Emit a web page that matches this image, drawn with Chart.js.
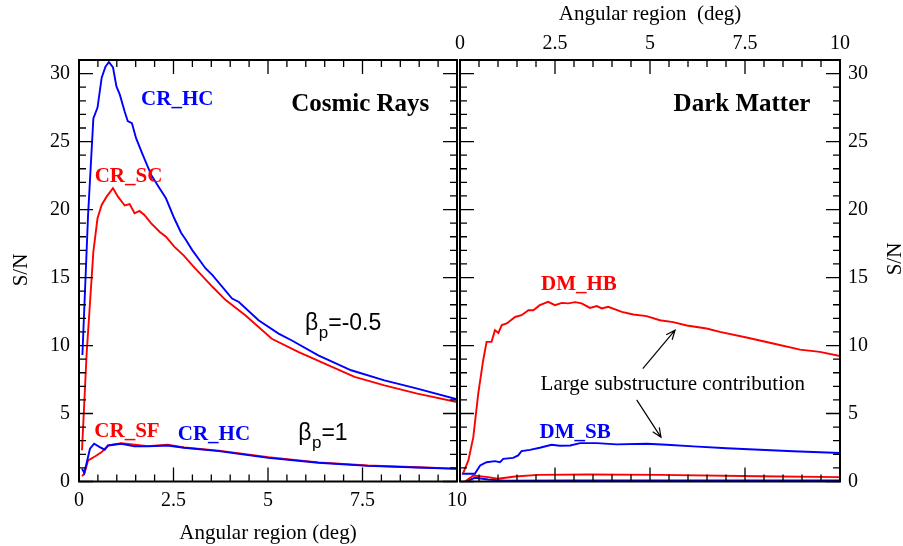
<!DOCTYPE html>
<html><head><meta charset="utf-8">
<script src="https://cdn.jsdelivr.net/npm/chart.js@4.4.1/dist/chart.umd.min.js"></script>
<style>
html,body{margin:0;padding:0;background:#fff;width:903px;height:546px;overflow:hidden}
#cl{position:absolute;left:0;top:0}
#cr{position:absolute;left:450px;top:0}
</style></head><body>
<canvas id="cl" width="474" height="546"></canvas>
<canvas id="cr" width="453" height="546"></canvas>
<script>
const xTicks = [0, 2.5, 5, 7.5, 10];
const yTicks = [0, 5, 10, 15, 20, 25, 30];

// Cosmic rays, beta_p = -0.5
const crHcX = [0.09,0.24,0.38,0.49,0.60,0.70,0.79,0.90,0.99,1.08,1.21,1.29,1.40,1.51,1.69,1.91,2.13,2.30,2.52,2.70,2.83,3.0,3.35,3.53,4.05,4.23,4.75,5.28,5.62,6.33,7.2,8.08,8.95,10.0];
const crHcY = [9.3,19.6,26.7,27.5,29.7,30.5,30.85,30.45,29.06,28.45,27.2,26.5,26.35,25.25,24.0,22.55,21.57,20.83,19.36,18.3,17.76,17.0,15.67,15.18,13.46,13.2,11.86,10.88,10.39,9.28,8.18,7.44,6.83,6.05];
const crScX = [0.08,0.2,0.38,0.49,0.60,0.73,0.90,1.03,1.21,1.34,1.47,1.60,1.73,1.91,2.13,2.30,2.52,2.78,3.0,3.53,3.88,4.40,5.1,5.8,6.5,7.29,8.08,8.95,10.0];
const crScY = [2.3,9.3,16.9,19.36,20.34,20.95,21.57,20.95,20.3,20.4,19.73,19.9,19.6,18.99,18.37,18.0,17.27,16.6,15.9,14.32,13.34,12.23,10.5,9.53,8.67,7.69,7.07,6.46,5.84];
// Cosmic rays, beta_p = 1
const crHc1X = [0.08,0.14,0.29,0.40,0.55,0.68,0.77,1.12,1.47,1.82,2.34,2.78,3.7,5.01,6.33,7.64,8.95,10.0];
const crHc1Y = [0.95,0.62,2.41,2.78,2.53,2.34,2.65,2.78,2.58,2.58,2.65,2.48,2.23,1.74,1.38,1.15,1.03,0.93];
const crSfX = [0.08,0.14,0.24,0.42,0.60,0.77,1.12,1.47,1.82,2.34,2.78,3.7,5.01,6.33,7.64,8.95,10.0];
const crSfY = [0.4,0.57,1.55,1.84,2.16,2.65,2.82,2.7,2.6,2.7,2.5,2.27,1.78,1.41,1.18,1.05,0.95];
// Dark matter
const dmHbX = [0.08,0.22,0.35,0.48,0.61,0.70,0.83,0.92,1.01,1.10,1.23,1.45,1.62,1.80,1.93,2.10,2.32,2.50,2.68,2.85,3.03,3.20,3.42,3.60,3.73,3.90,4.26,4.56,4.91,5.26,5.61,5.97,6.49,6.84,7.54,8.24,8.95,9.47,10.0];
const dmHbY = [0.6,1.55,3.26,6.46,8.92,10.27,10.27,11.13,10.93,11.5,11.62,12.1,12.23,12.6,12.6,12.97,13.21,12.97,13.14,13.1,13.19,13.1,12.77,12.9,12.73,12.85,12.48,12.28,12.16,11.86,11.72,11.47,11.25,11.0,10.59,10.15,9.7,9.53,9.23];
const dmSbX = [0.05,0.39,0.53,0.70,0.92,1.05,1.14,1.40,1.53,1.62,1.84,2.10,2.41,2.63,2.90,3.16,3.60,4.12,4.91,5.44,6.14,7.02,7.89,8.77,10.0];
const dmSbY = [0.57,0.57,1.18,1.42,1.5,1.42,1.67,1.74,1.92,2.23,2.33,2.48,2.7,2.63,2.65,2.82,2.82,2.73,2.78,2.7,2.58,2.45,2.33,2.23,2.1];
const dmRedLowX = [0.13,0.35,0.74,1.0,1.45,2.06,3.38,5.26,7.89,10.0];
const dmRedLowY = [0.0,0.44,0.32,0.2,0.37,0.49,0.52,0.49,0.39,0.32];
const dmBlueLowX = [0.18,0.39,0.74,1.18,3.0,6.0,10.0];
const dmBlueLowY = [0.02,0.27,0.15,0.05,0.07,0.07,0.07];

const FONT = "'Liberation Serif','Times New Roman',serif";
const SANS = "'Liberation Sans',Arial,sans-serif";
const BLUE = '#0000ff', RED = '#ff0000';
const pts = (xs, ys) => xs.map((x, i) => ({x, y: ys[i]}));
const line = (xs, ys, c) => ({data: pts(xs, ys), borderColor: c, borderWidth: 1.9, pointRadius: 0, fill: false, tension: 0});

function framePlugin(labels, extra) {
  return {
    id: 'frame',
    afterDatasetsDraw(chart) {
      const {ctx, chartArea: a, scales} = chart;
      const xs = scales.x, ys = scales.y;
      ctx.save();
      ctx.strokeStyle = '#000';
      ctx.lineWidth = 1.3;
      ctx.beginPath();
      for (let i = 0; i <= 20; i++) {
        const v = i * 0.5;
        const px = xs.getPixelForValue(v);
        const len = i % 5 === 0 ? 14 : 7;
        ctx.moveTo(px, a.bottom); ctx.lineTo(px, a.bottom - len);
        ctx.moveTo(px, a.top); ctx.lineTo(px, a.top + len);
      }
      for (let v = 0; v <= 31; v++) {
        const py = ys.getPixelForValue(v);
        const len = v % 5 === 0 ? 14 : 7;
        ctx.moveTo(a.left, py); ctx.lineTo(a.left + len, py);
        ctx.moveTo(a.right, py); ctx.lineTo(a.right - len, py);
      }
      ctx.stroke();
      ctx.lineWidth = 2;
      ctx.strokeRect(a.left, a.top, a.right - a.left, a.bottom - a.top);
      ctx.textAlign = 'center';
      ctx.textBaseline = 'middle';
      labels.forEach(l => {
        ctx.font = l.f + ' ' + FONT;
        ctx.fillStyle = l.c;
        ctx.fillText(l.t, xs.getPixelForValue(l.x), ys.getPixelForValue(l.y));
      });
      if (extra) extra(ctx, xs, ys, a);
      ctx.restore();
    }
  };
}

function betaLabel(ctx, xs, ys, x, y, rest) {
  let px = xs.getPixelForValue(x);
  const py = ys.getPixelForValue(y);
  ctx.textAlign = 'left';
  ctx.textBaseline = 'alphabetic';
  ctx.fillStyle = '#000';
  ctx.font = '23px ' + SANS;
  ctx.fillText('\u03b2', px, py);
  px += ctx.measureText('\u03b2').width + 0.5;
  ctx.font = '17px ' + SANS;
  ctx.fillText('p', px, py + 8);
  px += ctx.measureText('p').width;
  ctx.font = '23px ' + SANS;
  ctx.fillText(rest, px, py);
}

function vTitle(ctx, text, cx, cy) {
  ctx.save();
  ctx.translate(cx, cy);
  ctx.rotate(-Math.PI / 2);
  ctx.textAlign = 'center';
  ctx.textBaseline = 'middle';
  ctx.fillStyle = '#000';
  ctx.font = '21px ' + FONT;
  ctx.fillText(text, 0, 0);
  ctx.restore();
}

function arrow(ctx, xs, ys, x0, y0, x1, y1) {
  const ax = xs.getPixelForValue(x0), ay = ys.getPixelForValue(y0);
  const bx = xs.getPixelForValue(x1), by = ys.getPixelForValue(y1);
  const ang = Math.atan2(by - ay, bx - ax);
  ctx.strokeStyle = '#000';
  ctx.lineWidth = 1.2;
  ctx.beginPath();
  ctx.moveTo(ax, ay); ctx.lineTo(bx, by);
  ctx.moveTo(bx - 10 * Math.cos(ang - 0.4), by - 10 * Math.sin(ang - 0.4));
  ctx.lineTo(bx, by);
  ctx.lineTo(bx - 10 * Math.cos(ang + 0.4), by - 10 * Math.sin(ang + 0.4));
  ctx.stroke();
}

const tickFont = {family: FONT, size: 20};
const titleFont = {family: FONT, size: 21};

function xScale(pos, h, title, pad, tpad) {
  return {
    type: 'linear', position: pos, min: 0, max: 10,
    afterBuildTicks: s => { s.ticks = xTicks.map(v => ({value: v})); },
    afterFit: s => { s.height = h; },
    grid: {display: false, drawTicks: false}, border: {display: false},
    ticks: {font: tickFont, color: '#000', padding: pad, maxRotation: 0, autoSkip: false, callback: v => String(v)},
    title: {display: true, text: title, font: titleFont, color: '#000', padding: {top: tpad, bottom: tpad}}
  };
}
function yScale(pos, w, pad) {
  return {
    type: 'linear', position: pos, min: 0, max: 31,
    afterBuildTicks: s => { s.ticks = yTicks.map(v => ({value: v})); },
    afterFit: s => { s.width = w; },
    grid: {display: false, drawTicks: false}, border: {display: false},
    ticks: {font: tickFont, color: '#000', padding: pad, autoSkip: false, callback: v => String(v)}
  };
}

new Chart(document.getElementById('cl'), {
  type: 'line',
  data: {datasets: [
    line(crHcX, crHcY, BLUE),
    line(crScX, crScY, RED),
    line(crHc1X, crHc1Y, BLUE),
    line(crSfX, crSfY, RED)
  ]},
  options: {
    responsive: false, animation: false, events: [],
    layout: {padding: {top: 60, right: 14, left: 0, bottom: 0}},
    plugins: {legend: {display: false}, tooltip: {enabled: false}},
    scales: {x: xScale('bottom', 64.5, 'Angular region (deg)', 7, 0), y: yScale('left', 79, 9)}
  },
  plugins: [framePlugin([
    {t: 'CR_HC', x: 2.6, y: 28.1, c: BLUE, f: 'bold 21px'},
    {t: 'CR_SC', x: 1.31, y: 22.4, c: RED, f: 'bold 21px'},
    {t: 'Cosmic Rays', x: 7.44, y: 27.7, c: '#000', f: 'bold 25px'},
    {t: 'CR_SF', x: 1.27, y: 3.64, c: RED, f: 'bold 21px'},
    {t: 'CR_HC', x: 3.57, y: 3.42, c: BLUE, f: 'bold 21px'}
  ], (ctx, xs, ys) => {
    betaLabel(ctx, xs, ys, 5.98, 11.14, '=-0.5');
    betaLabel(ctx, xs, ys, 5.8, 3.05, '=1');
    vTitle(ctx, 'S/N', 21, 270);
  })]
});

new Chart(document.getElementById('cr'), {
  type: 'line',
  data: {datasets: [
    line(dmHbX, dmHbY, RED),
    line(dmSbX, dmSbY, BLUE),
    line(dmRedLowX, dmRedLowY, RED),
    line(dmBlueLowX, dmBlueLowY, BLUE)
  ]},
  options: {
    responsive: false, animation: false, events: [],
    layout: {padding: {top: 0, right: 0, left: 10, bottom: 64.5}},
    plugins: {legend: {display: false}, tooltip: {enabled: false}},
    scales: {x: xScale('top', 60, 'Angular region  (deg)', 4, 2), y: yScale('right', 63, 8)}
  },
  plugins: [framePlugin([
    {t: 'DM_HB', x: 3.13, y: 14.45, c: RED, f: 'bold 21px'},
    {t: 'DM_SB', x: 3.03, y: 3.57, c: BLUE, f: 'bold 21px'},
    {t: 'Dark Matter', x: 7.42, y: 27.7, c: '#000', f: 'bold 25px'},
    {t: 'Large substructure contribution', x: 5.6, y: 7.17, c: '#000', f: '21px'}
  ], (ctx, xs, ys) => {
    arrow(ctx, xs, ys, 4.81, 8.3, 5.66, 11.13);
    arrow(ctx, xs, ys, 4.65, 6.0, 5.29, 3.25);
    vTitle(ctx, 'S/N', 445, 259);
  })]
});
</script>
</body></html>
